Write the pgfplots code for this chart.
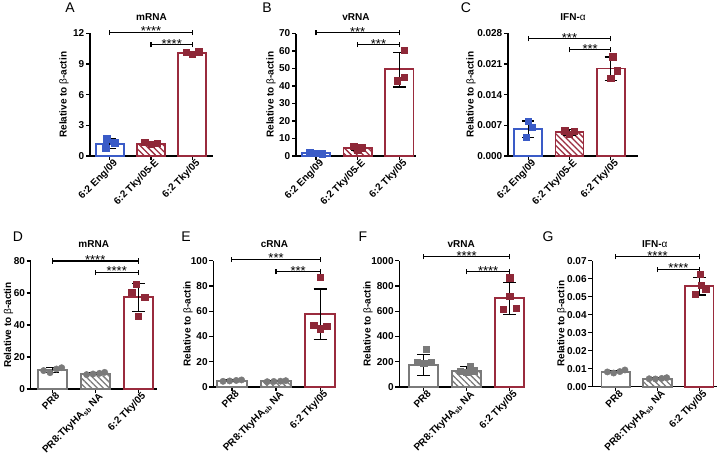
\documentclass[border=0pt]{standalone}
\usepackage{fontspec}
\setmainfont{Liberation Sans}
\usepackage{pgfplots}
\pgfplotsset{compat=1.18}
\usetikzlibrary{patterns.meta}
\definecolor{cblue}{HTML}{3A5BC7}
\definecolor{cred}{HTML}{9A2B3D}
\definecolor{cpred}{HTML}{8E2838}
\definecolor{cgray}{HTML}{7A7A7A}
\pgfplotsset{
 panel/.style={
  scale only axis, anchor=south west, clip=false,
  axis lines=left, axis line style={-, line width=1.3pt},
  tick align=outside, major tick length=4pt, tick style={line width=1.3pt, black},
  ymin=0, xtick={0,1,2}, scaled y ticks=false,
  /pgf/number format/assume math mode=true,
  /pgf/number format/1000 sep={},
  x tick label style={rotate=45, anchor=north east, font=\bfseries\fontsize{10}{12}\selectfont, inner sep=1pt, xshift=4pt},
  y tick label style={font=\bfseries\fontsize{10}{12}\selectfont, inner sep=1.5pt},
  ylabel={Relative to {\mdseries β}-actin},
  ylabel style={font=\bfseries\fontsize{10}{12}\selectfont, anchor=center, at={(axis description cs:#1,0.5)}},
  title style={font=\bfseries\fontsize{10}{12}\selectfont, at={(axis description cs:0.5,1)}, anchor=center, yshift=10.5pt},
 },
 bars/.style={ybar, bar width=0.68, bar shift=0pt, line width=1.9pt, forget plot},
 hatch/.style={pattern={Lines[angle=-45,distance=4.2pt,line width=1.3pt]}, pattern color=#1},
 pts/.style={only marks, mark=#1, mark size=3.2pt, forget plot},
 eb/.style={black, line width=1.3pt, mark=none, forget plot},
}
\newcommand{\eb}[5]{%
  \addplot[eb] coordinates {(#1,#4) (#1,#5)};
  \addplot[eb] coordinates {(#2,#4) (#3,#4)};
  \addplot[eb] coordinates {(#2,#5) (#3,#5)};
}
\newcommand{\sig}[5]{%
  \draw[line width=1.2pt] (axis cs:#1,#4) -- (axis cs:#2,#4);
  \draw[line width=1.2pt] (axis cs:#1,#4) ++(0pt,-2.7pt) -- ++(0pt,5.4pt);
  \draw[line width=1.2pt] (axis cs:#2,#4) ++(0pt,-2.7pt) -- ++(0pt,5.4pt);
  \node[font=\fontsize{13}{13}\selectfont, anchor=base, inner sep=0pt, yshift=-3.5pt] at (axis cs:#3,#4) {#5};
}
\begin{document}
\begin{tikzpicture}
\useasboundingbox (0pt,0pt) rectangle (721pt,457pt);
\node[font=\fontsize{14}{14}\selectfont] at (70pt,449pt) {A};
\node[font=\fontsize{14}{14}\selectfont] at (267pt,449pt) {B};
\node[font=\fontsize{14}{14}\selectfont] at (466pt,449pt) {C};
\node[font=\fontsize{14}{14}\selectfont] at (18pt,220pt) {D};
\node[font=\fontsize{14}{14}\selectfont] at (186pt,220pt) {E};
\node[font=\fontsize{14}{14}\selectfont] at (363pt,220pt) {F};
\node[font=\fontsize{14}{14}\selectfont] at (548pt,220pt) {G};

% ---------------- A
\begin{axis}[panel=-0.211, at={(90pt,301pt)}, width=123pt, height=122.5pt,
  xmin=-0.48, xmax=2.5, ymax=12, ytick={0,3,6,9,12},
  xticklabels={6:2 Eng/09, 6:2 Tky/05-E, 6:2 Tky/05}, title={mRNA}]
\addplot[bars, draw=cblue, fill=white] coordinates {(0,1.2)};
\addplot[bars, draw=cred, hatch=cred] coordinates {(1,1.2)};
\addplot[bars, draw=cred, fill=white] coordinates {(2,10.1)};
\addplot[pts=square*, cblue] coordinates {(-0.08,1.7) (0.12,1.3) (-0.1,0.75)};
\addplot[pts=square*, cpred] coordinates {(0.85,1.35) (1.0,1.15) (1.15,1.25) (1.85,10.15) (2.15,10.2) (2.0,10.0)};
\eb{0}{-0.15}{0.15}{0.7}{1.7}
\eb{1}{0.85}{1.15}{1.05}{1.35}
\eb{2}{1.85}{2.15}{10.0}{10.2}
\sig{0}{2}{1}{12.1}{****}
\sig{1}{2}{1.5}{10.9}{****}
\end{axis}

% ---------------- B
\begin{axis}[panel=-0.208, at={(296pt,301pt)}, width=120pt, height=122.5pt,
  xmin=-0.48, xmax=2.4, ymax=70, ytick={0,10,...,70},
  xticklabels={6:2 Eng/09, 6:2 Tky/05-E, 6:2 Tky/05}, title={vRNA}]
\addplot[bars, draw=cblue, fill=white] coordinates {(0,1.5)};
\addplot[bars, draw=cred, hatch=cred] coordinates {(1,4.5)};
\addplot[bars, draw=cred, fill=white] coordinates {(2,49.5)};
\addplot[pts=square*, cblue] coordinates {(-0.15,1.8) (0.0,1.5) (0.15,1.3)};
\addplot[pts=square*, cpred] coordinates {(0.9,5.5) (1.1,4.8) (1.0,3.5) (2.12,60.5) (2.12,45) (1.95,43)};
\eb{0}{-0.15}{0.15}{1.1}{1.9}
\eb{1}{0.85}{1.15}{3.5}{5.5}
\eb{2}{1.85}{2.15}{39.5}{59.3}
\sig{0}{2}{1}{70.5}{***}
\sig{1}{2}{1.5}{63.7}{***}
\end{axis}

% ---------------- C
\begin{axis}[panel=-0.285, at={(508pt,301pt)}, width=130pt, height=122.5pt,
  xmin=-0.49, xmax=2.66, ymax=0.028, ytick={0,0.007,0.014,0.021,0.028},
  yticklabel style={/pgf/number format/.cd, fixed, fixed zerofill, precision=3},
  xticklabels={6:2 Eng/09, 6:2 Tky/05-E, 6:2 Tky/05}, title={IFN-{\mdseries α}}]
\addplot[bars, draw=cblue, fill=white] coordinates {(0,0.0062)};
\addplot[bars, draw=cred, hatch=cred] coordinates {(1,0.0054)};
\addplot[bars, draw=cred, fill=white] coordinates {(2,0.0200)};
\addplot[pts=square*, cblue] coordinates {(0.0,0.0080) (0.1,0.0066) (-0.05,0.0043)};
\addplot[pts=square*, cpred] coordinates {(0.88,0.0058) (1.12,0.0056) (1.0,0.0050) (2.05,0.0227) (2.15,0.0195) (2.0,0.0178)};
\eb{0}{-0.15}{0.15}{0.0043}{0.0080}
\eb{1}{0.85}{1.15}{0.0048}{0.0060}
\eb{2}{1.85}{2.15}{0.0172}{0.0226}
\sig{0}{2}{1}{0.0268}{***}
\sig{1}{2}{1.5}{0.0243}{***}
\end{axis}

% ---------------- D
\begin{axis}[panel=-0.176, at={(30.7pt,68pt)}, width=126pt, height=128pt,
  xmin=-0.5, xmax=2.43, ymax=80, ytick={0,20,...,80},
  xticklabels={PR8, PR8:TkyHA\textsubscript{sb} NA, 6:2 Tky/05}, title={mRNA}]
\addplot[bars, draw=cgray, fill=white] coordinates {(0,11.8)};
\addplot[bars, draw=cgray, hatch=cgray] coordinates {(1,9.6)};
\addplot[bars, draw=cred, fill=white] coordinates {(2,57.3)};
\addplot[pts=*, cgray] coordinates {(-0.2,11.5) (-0.05,10.2) (0.1,12.5) (0.22,13.3) (0.8,9.0) (0.95,9.4) (1.1,9.8) (1.22,10.4)};
\addplot[pts=square*, cpred] coordinates {(1.95,65.5) (1.85,60.5) (2.15,57.5) (2.0,45.5)};
\eb{0}{-0.15}{0.15}{10.2}{13.4}
\eb{1}{0.85}{1.15}{9.0}{10.2}
\eb{2}{1.85}{2.15}{48.5}{65.8}
\sig{0}{2}{1}{80}{****}
\sig{1}{2}{1.5}{72.9}{****}
\end{axis}

% ---------------- E
\begin{axis}[panel=-0.207, at={(213.3pt,70pt)}, width=122.4pt, height=126.3pt,
  xmin=-0.42, xmax=2.35, ymax=100, ytick={0,20,...,100},
  xticklabels={PR8, PR8:TkyHA\textsubscript{sb} NA, 6:2 Tky/05}, title={cRNA}]
\addplot[bars, draw=cgray, fill=white] coordinates {(0,5.0)};
\addplot[bars, draw=cgray, hatch=cgray] coordinates {(1,4.5)};
\addplot[bars, draw=cred, fill=white] coordinates {(2,57.8)};
\addplot[pts=*, cgray] coordinates {(-0.2,4.5) (-0.05,4.8) (0.1,5.2) (0.22,5.6) (0.8,4.2) (0.95,4.4) (1.1,4.6) (1.22,5.0)};
\addplot[pts=square*, cpred] coordinates {(2.0,87) (1.85,49) (2.0,46) (2.15,48)};
\eb{0}{-0.15}{0.15}{4.5}{5.5}
\eb{1}{0.85}{1.15}{4.1}{4.9}
\eb{2}{1.85}{2.15}{37.8}{77.5}
\sig{0}{2}{1}{101}{***}
\sig{1}{2}{1.5}{91.3}{***}
\end{axis}

% ---------------- F
\begin{axis}[panel=-0.252, at={(399.3pt,70pt)}, width=124pt, height=126.3pt,
  xmin=-0.57, xmax=2.32, ymax=1000, ytick={0,200,...,1000},
  xticklabels={PR8, PR8:TkyHA\textsubscript{sb} NA, 6:2 Tky/05}, title={vRNA}]
\addplot[bars, draw=cgray, fill=white] coordinates {(0,175)};
\addplot[bars, draw=cgray, hatch=cgray] coordinates {(1,130)};
\addplot[bars, draw=cred, fill=white] coordinates {(2,702)};
\addplot[pts=square*, cgray] coordinates {(0.05,298) (-0.15,195) (0.0,190) (0.18,195) (0.85,125) (1.0,118) (1.08,160) (1.18,130)};
\addplot[pts=square*, cpred] coordinates {(2.0,865) (2.0,720) (1.85,615) (2.15,625)};
\eb{0}{-0.15}{0.15}{90}{255}
\eb{1}{0.85}{1.15}{100}{160}
\eb{2}{1.85}{2.15}{575}{825}
\sig{0}{2}{1}{1031}{****}
\sig{1}{2}{1.5}{913}{****}
\end{axis}

% ---------------- G
\begin{axis}[panel=-0.245, at={(592.3pt,70.3pt)}, width=125pt, height=126pt,
  xmin=-0.56, xmax=2.43, ymax=0.07, ytick={0,0.01,0.02,0.03,0.04,0.05,0.06,0.07},
  yticklabel style={/pgf/number format/.cd, fixed, fixed zerofill, precision=2},
  xticklabels={PR8, PR8:TkyHA\textsubscript{sb} NA, 6:2 Tky/05}, title={IFN-{\mdseries α}}]
\addplot[bars, draw=cgray, fill=white] coordinates {(0,0.0083)};
\addplot[bars, draw=cgray, hatch=cgray] coordinates {(1,0.0045)};
\addplot[bars, draw=cred, fill=white] coordinates {(2,0.0560)};
\addplot[pts=*, cgray] coordinates {(-0.2,0.0082) (-0.05,0.0076) (0.1,0.0084) (0.22,0.0093) (0.8,0.0044) (0.95,0.0043) (1.1,0.0046) (1.22,0.0050)};
\addplot[pts=square*, cpred] coordinates {(2.02,0.0625) (2.05,0.0565) (2.15,0.0545) (1.9,0.0515)};
\eb{0}{-0.15}{0.15}{0.0077}{0.0090}
\eb{1}{0.85}{1.15}{0.0042}{0.0048}
\eb{2}{1.85}{2.15}{0.0510}{0.0605}
\sig{0}{2}{1}{0.0722}{****}
\sig{1}{2}{1.5}{0.0652}{****}
\end{axis}
\end{tikzpicture}
\end{document}
